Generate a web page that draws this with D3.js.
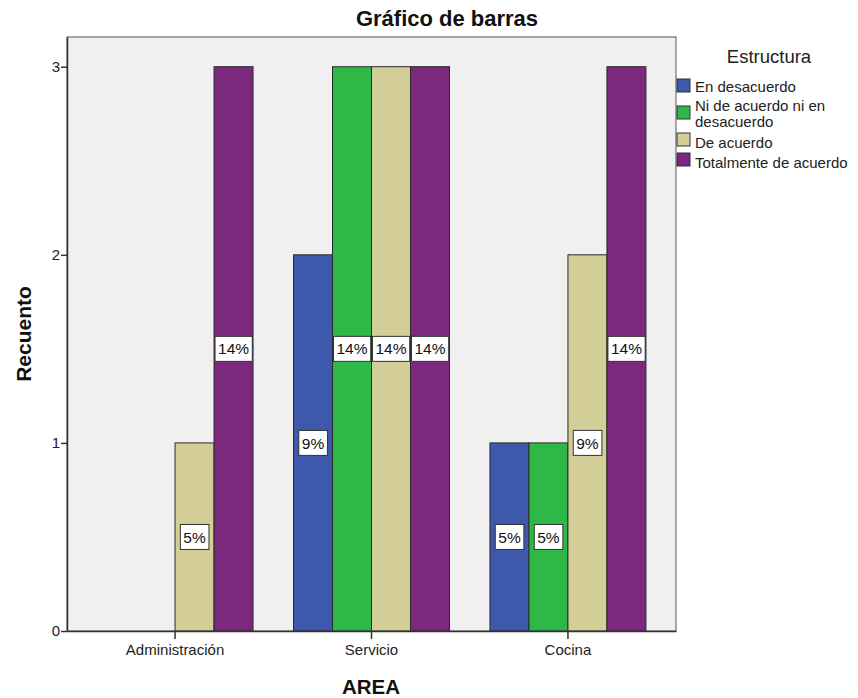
<!DOCTYPE html>
<html>
<head>
<meta charset="utf-8">
<script src="https://cdn.jsdelivr.net/npm/d3@7"></script>
<style>
  html, body { margin: 0; padding: 0; background: #fff; }
  svg { display: block; font-family: "Liberation Sans", Arial, sans-serif; }
</style>
</head>
<body>
<svg id="chart" width="858" height="698"></svg>
<script>
// Categories and series
const areas = ["Administración", "Servicio", "Cocina"];
const levels = ["En desacuerdo", "Ni de acuerdo ni en desacuerdo", "De acuerdo", "Totalmente de acuerdo"];
const legendLines = [["En desacuerdo"], ["Ni de acuerdo ni en", "desacuerdo"], ["De acuerdo"], ["Totalmente de acuerdo"]];
const colors = ["#3e58ac", "#2eb848", "#d3ce97", "#7b287d"];

// Counts per area, one array per level (same order as levels)
const enDesacuerdo   = [0, 2, 1];
const niNi           = [0, 3, 1];
const deAcuerdo      = [1, 3, 2];
const totalmente     = [3, 3, 3];
// Percentage labels shown on the bars
const pctEnDesacuerdo = [null, "9%", "5%"];
const pctNiNi         = [null, "14%", "5%"];
const pctDeAcuerdo    = ["5%", "14%", "9%"];
const pctTotalmente   = ["14%", "14%", "14%"];
const yTicks = [0, 1, 2, 3];

const seriesValues = [enDesacuerdo, niNi, deAcuerdo, totalmente];
const seriesPct = [pctEnDesacuerdo, pctNiNi, pctDeAcuerdo, pctTotalmente];

const rows = [];
areas.forEach((a, i) => {
  levels.forEach((l, j) => {
    rows.push({ area: a, level: l, idx: j, value: seriesValues[j][i], pct: seriesPct[j][i] });
  });
});

const svg = d3.select("#chart");
const plot = { left: 67, right: 676, top: 37, bottom: 631 };

const x0 = d3.scaleBand().domain(areas).range([plot.left, plot.right])
  .paddingInner(0.206).paddingOuter(0.153);
const x1 = d3.scaleBand().domain(levels).range([0, x0.bandwidth()]);
const y = d3.scaleLinear().domain([0, 3.158]).range([plot.bottom, plot.top]);

// Plot background
svg.append("rect")
  .attr("x", plot.left).attr("y", plot.top)
  .attr("width", plot.right - plot.left).attr("height", plot.bottom - plot.top)
  .attr("fill", "#f0f0f0").attr("stroke", "#555").attr("stroke-width", 1);

// Bars
svg.append("g").selectAll("rect")
  .data(rows.filter(d => d.value > 0))
  .join("rect")
  .attr("x", d => x0(d.area) + x1(d.level))
  .attr("y", d => y(d.value))
  .attr("width", x1.bandwidth())
  .attr("height", d => y(0) - y(d.value))
  .attr("fill", d => colors[d.idx])
  .attr("stroke", "#2a2a2a").attr("stroke-width", 1);

// Axes
const yAxis = svg.append("g")
  .attr("transform", `translate(${plot.left},0)`)
  .call(d3.axisLeft(y).tickValues(yTicks).tickFormat(d3.format("d")).tickSize(6).tickSizeOuter(0));
const xAxis = svg.append("g")
  .attr("transform", `translate(0,${plot.bottom})`)
  .call(d3.axisBottom(x0).tickSize(8).tickSizeOuter(0).tickPadding(5));
[yAxis, xAxis].forEach(g => {
  g.select(".domain").attr("stroke", "#333").attr("stroke-width", 1.5);
  g.selectAll(".tick line").attr("stroke", "#333").attr("stroke-width", 1.5);
  g.selectAll(".tick text").attr("fill", "#222").style("font-size", "15px")
    .style("font-family", "'Liberation Sans', Arial, sans-serif");
});
yAxis.selectAll(".tick text").attr("x", -7);

// Value labels (boxes centred at half of each bar)
const lab = svg.append("g").selectAll("g")
  .data(rows.filter(d => d.pct))
  .join("g")
  .attr("transform", d => `translate(${x0(d.area) + x1(d.level) + x1.bandwidth() / 2},${y(d.value / 2)})`);
lab.append("text")
  .attr("text-anchor", "middle").attr("dy", "0.36em")
  .style("font-size", "15.5px").attr("fill", "#111")
  .text(d => d.pct)
  .each(function () {
    const b = this.getBBox();
    d3.select(this.parentNode).insert("rect", "text")
      .attr("x", b.x - 3).attr("y", -12.5)
      .attr("width", b.width + 6).attr("height", 25)
      .attr("fill", "#fff").attr("stroke", "#333").attr("stroke-width", 1);
  });

// Title and axis titles
svg.append("text").attr("x", 447).attr("y", 26).attr("text-anchor", "middle")
  .style("font-size", "22px").style("font-weight", "bold").attr("fill", "#111")
  .text("Gráfico de barras");
svg.append("text").attr("transform", "translate(31,334) rotate(-90)").attr("text-anchor", "middle")
  .style("font-size", "21px").style("font-weight", "bold").attr("fill", "#111")
  .text("Recuento");
svg.append("text").attr("x", 371).attr("y", 694).attr("text-anchor", "middle")
  .style("font-size", "20.5px").style("font-weight", "bold").attr("fill", "#111")
  .text("AREA");

// Legend
const legend = svg.append("g");
legend.append("text").attr("x", 769).attr("y", 63).attr("text-anchor", "middle")
  .style("font-size", "18.5px").attr("fill", "#222").text("Estructura");
const swatchY = [79, 106, 133, 153];
const textY = [92, 111, 148, 168];
levels.forEach((l, j) => {
  legend.append("rect").attr("x", 677).attr("y", swatchY[j]).attr("width", 13).attr("height", 13)
    .attr("fill", colors[j]).attr("stroke", "#333").attr("stroke-width", 1);
  const t = legend.append("text").attr("x", 695).attr("y", textY[j])
    .style("font-size", "15px").attr("fill", "#222");
  legendLines[j].forEach((line, k) => {
    t.append("tspan").attr("x", 695).attr("dy", k === 0 ? 0 : 16).text(line);
  });
});
</script>
</body>
</html>
